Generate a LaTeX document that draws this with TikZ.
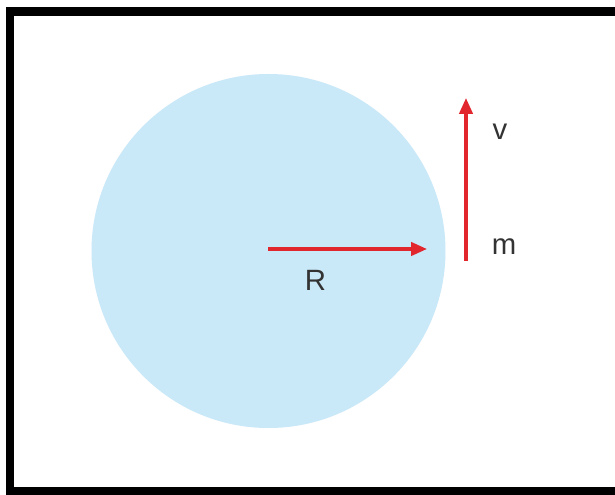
\documentclass[tikz,border=0pt]{standalone}
\usepackage{fontspec}
\setmainfont{Liberation Sans}
\usetikzlibrary{arrows.meta}
\definecolor{disc}{HTML}{C9E8F8}
\definecolor{vec}{HTML}{E2262E}
\definecolor{txt}{HTML}{333333}
\tikzset{
  vecarrow/.style={draw=vec, line width=2.5pt, -{Triangle[length=12pt,width=10pt]}},
  lbl/.style={text=txt, font=\fontsize{22}{26}\selectfont, inner sep=0pt}
}
\begin{document}
\begin{tikzpicture}[x=0.75pt,y=-0.75pt]
\useasboundingbox (0,0) rectangle (615,495);
\fill[white] (0,0) rectangle (615,495);
\clip (0,0) rectangle (615,495);
% frame
\draw[line width=6.5pt, line join=miter] (660,11.5) -- (10,11.5) -- (10,491.5) -- (660,491.5);
% disc
\fill[disc] (268.5,251) circle (177);
% radius arrow
\coordinate (c) at (268,249);
\coordinate (e) at (427,249);
\draw[vecarrow] (c) -- (e);
\node[lbl] (R) at (315.5,280) {R};
% velocity arrow
\coordinate (m0) at (466,261);
\coordinate (v0) at (466,98);
\draw[vecarrow] (m0) -- (v0);
\node[lbl] (v) at (500,132) {v};
\node[lbl] (m) at (504,247) {m};
\end{tikzpicture}
\end{document}
